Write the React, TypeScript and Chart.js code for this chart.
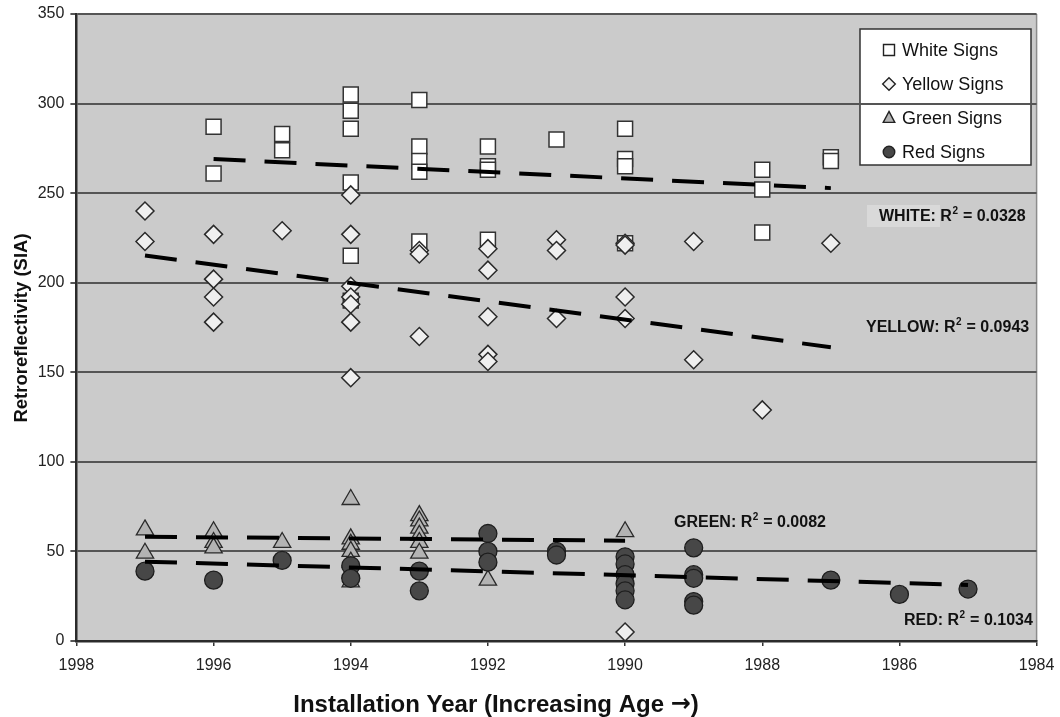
import React, { useEffect, useRef } from 'react';
import { Chart, registerables } from 'chart.js';

Chart.register(...registerables);

// ---------- data ----------
const whiteYears = [1996, 1996, 1995, 1995, 1994, 1994, 1994, 1994, 1994, 1994, 1993, 1993, 1993, 1993, 1993, 1992, 1992, 1992, 1992, 1991, 1990, 1990, 1990, 1990, 1988, 1988, 1988, 1987, 1987];
const whiteValues = [287, 261, 283, 274, 305, 296, 286, 256, 215, 190, 302, 276, 268, 262, 223, 276, 265, 263, 224, 280, 286, 269, 265, 222, 263, 252, 228, 270, 268];

const yellowYears = [1997, 1997, 1996, 1996, 1996, 1996, 1995, 1994, 1994, 1994, 1994, 1994, 1994, 1994, 1993, 1993, 1993, 1992, 1992, 1992, 1992, 1992, 1991, 1991, 1991, 1990, 1990, 1990, 1990, 1990, 1989, 1989, 1988, 1987];
const yellowValues = [240, 223, 227, 202, 192, 178, 229, 249, 227, 198, 192, 188, 178, 147, 218, 216, 170, 219, 207, 181, 160, 156, 224, 218, 180, 222, 221, 192, 180, 5, 223, 157, 129, 222];

const greenYears = [1997, 1997, 1996, 1996, 1996, 1995, 1994, 1994, 1994, 1994, 1994, 1994, 1994, 1993, 1993, 1993, 1993, 1993, 1993, 1992, 1990];
const greenValues = [62, 49, 61, 55, 52, 55, 79, 57, 54, 50, 44, 38, 33, 70, 67, 63, 59, 55, 49, 34, 61];

const redYears = [1997, 1996, 1995, 1994, 1994, 1993, 1993, 1992, 1992, 1992, 1991, 1991, 1990, 1990, 1990, 1990, 1990, 1990, 1989, 1989, 1989, 1989, 1989, 1987, 1986, 1985];
const redValues = [39, 34, 45, 42, 35, 39, 28, 60, 50, 44, 50, 48, 47, 43, 37, 32, 28, 23, 52, 37, 35, 22, 20, 34, 26, 29];

// trend line end points (year, value)
const whiteTrendYears = [1996, 1987];
const whiteTrendValues = [269, 252.8];
const yellowTrendYears = [1997, 1987];
const yellowTrendValues = [215.2, 164];
const greenTrendYears = [1997, 1990];
const greenTrendValues = [58.2, 56];
const redTrendYears = [1997, 1985];
const redTrendValues = [44.3, 31.3];

const legendLabels = ['White Signs', 'Yellow Signs', 'Green Signs', 'Red Signs'];
const r2Names = ['WHITE', 'YELLOW', 'GREEN', 'RED'];
const r2Values = ['0.0328', '0.0943', '0.0082', '0.1034'];

const xTitleStart = 'Installation Year (Increasing Age ';
const xTitleArrow = '\u2192';
const xTitleEnd = ')';
const yTitle = 'Retroreflectivity (SIA)';

// ---------- styles ----------
const FONT = "'Liberation Sans', Arial, Helvetica, sans-serif";
const PLOT_BG = '#cbcbcb';

const pts = (xs: number[], ys: number[]) => xs.map((x, i) => ({ x, y: ys[i] }));

type MarkerKind = 'square' | 'diamond' | 'triangle' | 'circle';

function drawMarker(ctx: CanvasRenderingContext2D, kind: MarkerKind, x: number, y: number, s: number) {
  ctx.save();
  ctx.beginPath();
  if (kind === 'square') {
    ctx.rect(x - s, y - s, 2 * s, 2 * s);
    ctx.fillStyle = '#ffffff';
  } else if (kind === 'diamond') {
    ctx.moveTo(x, y - s * 1.15);
    ctx.lineTo(x + s * 1.15, y);
    ctx.lineTo(x, y + s * 1.15);
    ctx.lineTo(x - s * 1.15, y);
    ctx.closePath();
    ctx.fillStyle = '#f4f4f4';
  } else if (kind === 'triangle') {
    ctx.moveTo(x, y - s * 1.2);
    ctx.lineTo(x + s * 1.05, y + s * 0.8);
    ctx.lineTo(x - s * 1.05, y + s * 0.8);
    ctx.closePath();
    ctx.fillStyle = '#b3b3b3';
  } else {
    ctx.arc(x, y, s * 1.05, 0, Math.PI * 2);
    ctx.fillStyle = '#474747';
  }
  ctx.fill();
  ctx.lineWidth = 1.4;
  ctx.strokeStyle = '#222';
  ctx.stroke();
  ctx.restore();
}

function drawR2(ctx: CanvasRenderingContext2D, name: string, value: string, x: number, y: number) {
  ctx.save();
  ctx.fillStyle = '#111';
  ctx.textBaseline = 'middle';
  ctx.textAlign = 'left';
  ctx.font = `bold 16px ${FONT}`;
  const a = `${name}: R`;
  ctx.fillText(a, x, y);
  let cx = x + ctx.measureText(a).width;
  ctx.font = `bold 10px ${FONT}`;
  ctx.fillText('2', cx + 0.5, y - 6);
  cx += ctx.measureText('2').width + 1;
  ctx.font = `bold 16px ${FONT}`;
  ctx.fillText(` = ${value}`, cx, y);
  ctx.restore();
}

const decorPlugin = {
  id: 'decor',
  beforeDraw(chart: any) {
    const { ctx, chartArea } = chart;
    const { left, top, right, bottom } = chartArea;
    ctx.save();
    ctx.fillStyle = PLOT_BG;
    ctx.fillRect(left, top, right - left, bottom - top);
    // right border
    ctx.strokeStyle = '#8c8c8c';
    ctx.lineWidth = 1.5;
    ctx.beginPath();
    ctx.moveTo(right, top);
    ctx.lineTo(right, bottom);
    ctx.stroke();

    // legend box (drawn under the grid, as in the reference)
    const lx = 860, ly = 29, lw = 171, lh = 136;
    ctx.fillStyle = '#ffffff';
    ctx.fillRect(lx, ly, lw, lh);
    ctx.strokeStyle = '#333';
    ctx.lineWidth = 1.5;
    ctx.strokeRect(lx, ly, lw, lh);
    const kinds: MarkerKind[] = ['square', 'diamond', 'triangle', 'circle'];
    legendLabels.forEach((lab, i) => {
      const yy = 50 + i * 34;
      drawMarker(ctx, kinds[i], 889, yy, 5.5);
      ctx.fillStyle = '#111';
      ctx.font = `18px ${FONT}`;
      ctx.textAlign = 'left';
      ctx.textBaseline = 'middle';
      ctx.fillText(lab, 902, yy + 1);
    });

    // light patch behind the WHITE label
    ctx.fillStyle = '#d9d9d9';
    ctx.fillRect(867, 205, 73, 22);
    ctx.restore();
  },
  afterDraw(chart: any) {
    const { ctx } = chart;
    drawR2(ctx, r2Names[0], r2Values[0], 879, 217);
    drawR2(ctx, r2Names[1], r2Values[1], 866, 328);
    drawR2(ctx, r2Names[2], r2Values[2], 674, 523);
    drawR2(ctx, r2Names[3], r2Values[3], 904, 621);

    ctx.save();
    ctx.fillStyle = '#111';
    ctx.textAlign = 'left';
    ctx.textBaseline = 'alphabetic';
    // x title drawn in pieces so the arrow can use a bold arrow glyph
    const fMain = `bold 24px ${FONT}`;
    const fArrow = `bold 24px 'DejaVu Sans', sans-serif`;
    ctx.font = fMain;
    const w1 = ctx.measureText(xTitleStart).width;
    const w3 = ctx.measureText(xTitleEnd).width;
    ctx.font = fArrow;
    const w2 = ctx.measureText(xTitleArrow).width;
    let x0 = 496 - (w1 + w2 + w3) / 2;
    ctx.font = fMain;
    ctx.fillText(xTitleStart, x0, 712);
    x0 += w1;
    ctx.font = fArrow;
    ctx.fillText(xTitleArrow, x0, 711);
    x0 += w2;
    ctx.font = fMain;
    ctx.fillText(xTitleEnd, x0, 712);

    ctx.textAlign = 'center';
    ctx.translate(27, 328);
    ctx.rotate(-Math.PI / 2);
    ctx.font = `bold 18.5px ${FONT}`;
    ctx.fillText(yTitle, 0, 0);
    ctx.restore();
  },
};

const trendStyle = {
  showLine: true,
  pointRadius: 0,
  pointHoverRadius: 0,
  borderColor: '#000',
  borderWidth: 4,
  borderDash: [32, 19],
  fill: false,
  borderCapStyle: 'butt' as const,
};

export default function App() {
  const ref = useRef<HTMLCanvasElement | null>(null);

  useEffect(() => {
    if (!ref.current) return;
    const chart = new Chart(ref.current, {
      type: 'scatter',
      data: {
        datasets: [
          { label: 'White trend', data: pts(whiteTrendYears, whiteTrendValues), ...trendStyle },
          { label: 'Yellow trend', data: pts(yellowTrendYears, yellowTrendValues), ...trendStyle },
          { label: 'Green trend', data: pts(greenTrendYears, greenTrendValues), ...trendStyle },
          { label: 'Red trend', data: pts(redTrendYears, redTrendValues), ...trendStyle },
          {
            label: 'Red Signs', data: pts(redYears, redValues),
            pointStyle: 'circle', pointRadius: 9, backgroundColor: '#474747', borderColor: '#1e1e1e', borderWidth: 1.3,
          },
          {
            label: 'Green Signs', data: pts(greenYears, greenValues),
            pointStyle: 'triangle', pointRadius: 10, backgroundColor: '#b3b3b3', borderColor: '#2a2a2a', borderWidth: 1.3,
          },
          {
            label: 'Yellow Signs', data: pts(yellowYears, yellowValues),
            pointStyle: 'rectRot', pointRadius: 9, backgroundColor: '#efefef', borderColor: '#2a2a2a', borderWidth: 1.5,
          },
          {
            label: 'White Signs', data: pts(whiteYears, whiteValues),
            pointStyle: 'rect', pointRadius: 10.6, backgroundColor: '#ffffff', borderColor: '#333', borderWidth: 1.5,
          },
        ] as any,
      },
      options: {
        responsive: false,
        animation: false,
        events: [],
        layout: { padding: { left: 0, right: 23.4, top: 14, bottom: 0 } },
        plugins: { legend: { display: false }, tooltip: { enabled: false }, title: { display: false } },
        scales: {
          x: {
            type: 'linear',
            reverse: true,
            min: 1984,
            max: 1998,
            afterFit: (s: any) => { s.height = 76; s.paddingLeft = 0; s.paddingRight = 0; },
            ticks: {
              stepSize: 2,
              padding: 10,
              color: '#222',
              font: { family: FONT, size: 16 },
              callback: (v: any) => String(v),
              maxRotation: 0,
            },
            grid: { drawOnChartArea: false, drawTicks: true, tickLength: 5, color: '#333', lineWidth: 1.5 },
            border: { display: true, color: '#2b2b2b', width: 2.5 },
          },
          y: {
            type: 'linear',
            min: 0,
            max: 350,
            afterFit: (s: any) => { s.width = 76.4; s.paddingTop = 0; s.paddingBottom = 0; },
            ticks: {
              stepSize: 50,
              padding: 6,
              color: '#222',
              font: { family: FONT, size: 16 },
            },
            grid: { color: '#555', lineWidth: 2, tickLength: 6, drawTicks: true },
            border: { display: true, color: '#2b2b2b', width: 2.5 },
          },
        },
      } as any,
      plugins: [decorPlugin],
    });
    return () => chart.destroy();
  }, []);

  return (
    <div style={{ position: 'fixed', left: 0, top: 0, width: 1060, height: 717, background: '#fff' }}>
      <canvas ref={ref} width={1060} height={717} style={{ display: 'block', width: 1060, height: 717 }} />
    </div>
  );
}
